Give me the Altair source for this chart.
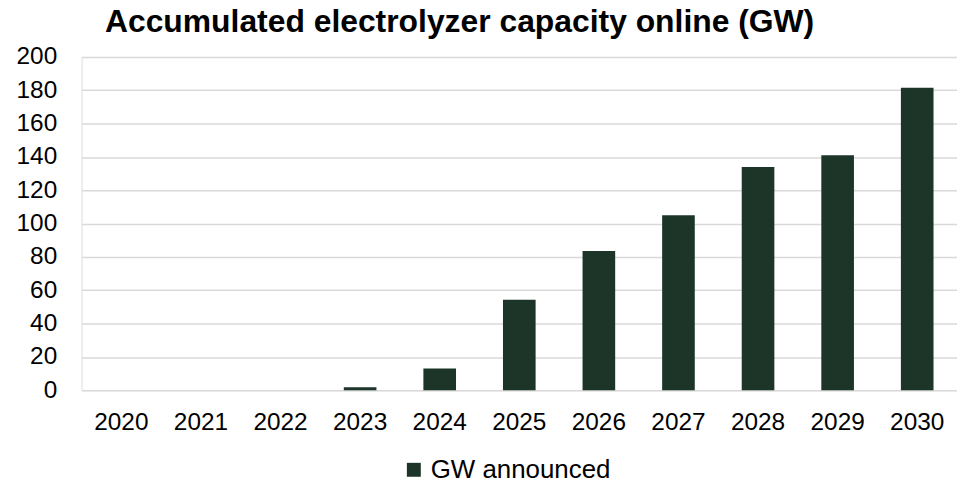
import altair as alt
import pandas as pd

years = ["2020", "2021", "2022", "2023", "2024", "2025", "2026", "2027", "2028", "2029", "2030"]
gw_announced = [0, 0, 0, 1.8, 13.1, 54.3, 83.6, 105, 134, 141, 181.5]
series = ["GW announced"] * len(years)

df = pd.DataFrame({"year": years, "gw": gw_announced, "series": series})

FONT = "Liberation Sans"
BAR = "#1d3528"

chart = (
    alt.Chart(df)
    .mark_bar(color=BAR)
    .encode(
        x=alt.X(
            "year:N",
            sort=years,
            title=None,
            scale=alt.Scale(paddingInner=0.59, paddingOuter=0.295),
            axis=alt.Axis(
                labelAngle=0,
                labelFontSize=24.5,
                labelColor="#000000",
                labelFont=FONT,
                labelPadding=20,
                ticks=False,
                domain=False,
            ),
        ),
        y=alt.Y(
            "gw:Q",
            title=None,
            scale=alt.Scale(domain=[0, 200], nice=False),
            axis=alt.Axis(
                values=list(range(0, 201, 20)),
                labelFontSize=24.5,
                labelColor="#000000",
                labelFont=FONT,
                labelPadding=25,
                ticks=False,
                domain=False,
                grid=True,
                gridColor="#d9d9d9",
                gridWidth=1.5,
            ),
        ),
        color=alt.Color(
            "series:N",
            scale=alt.Scale(range=[BAR]),
            legend=alt.Legend(
                title=None,
                orient="none",
                legendX=321,
                legendY=402,
                symbolType="square",
                symbolSize=196,
                symbolStrokeWidth=0,
                labelFontSize=26,
                labelFont=FONT,
                labelColor="#000000",
                labelOffset=4,
                labelLimit=400,
            ),
        ),
    )
    .properties(
        width=880,
        height=335,
        autosize=alt.AutoSizeParams(type="none"),
        padding={"left": 82, "top": 56, "right": 0, "bottom": 89},
        title=alt.TitleParams(
            "Accumulated electrolyzer capacity online (GW)",
            fontSize=32,
            font=FONT,
            fontWeight="bold",
            color="#000000",
            anchor="middle",
            dx=-60,
            offset=5,
        ),
    )
    .configure_view(stroke=None)
    .configure(background="#ffffff")
)

chart.save("out.html", embed_options={"renderer": "svg", "actions": False})
